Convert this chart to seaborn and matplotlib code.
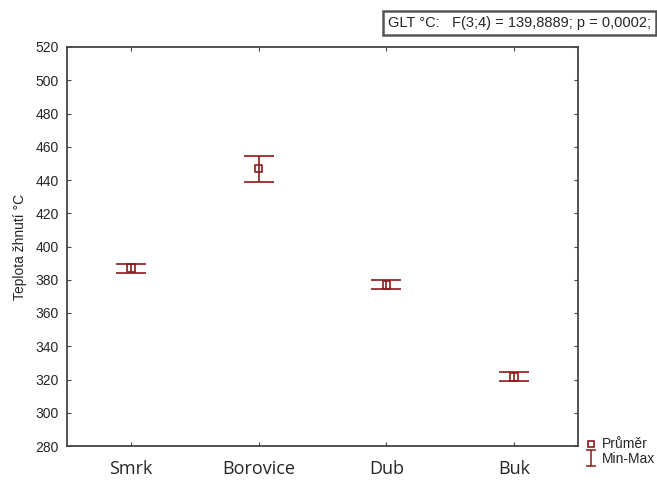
import numpy as np
import pandas as pd
import matplotlib
matplotlib.use("Agg")
import matplotlib.pyplot as plt
import seaborn as sns
from matplotlib.lines import Line2D
from matplotlib.path import Path

# values
druhy = ["Smrk", "Borovice", "Dub", "Buk"]
prumer = [387.0, 446.8, 376.8, 321.5]
minimum = [384.0, 439.0, 374.3, 319.0]
maximum = [389.5, 454.6, 379.6, 324.5]

df = pd.DataFrame({"Druh": druhy, "Prumer": prumer, "Min": minimum, "Max": maximum})

sns.set_style("white")
plt.rcParams["font.family"] = ["Liberation Sans", "DejaVu Sans"]

barva = "#8b1a1a"

fig = plt.figure(figsize=(6.57, 4.93), dpi=100)
ax = fig.add_axes([67 / 657, 1 - 446 / 493, (578 - 67) / 657, (446 - 47) / 493])

pos = np.arange(len(df))
err = [df["Prumer"] - df["Min"], df["Max"] - df["Prumer"]]
ax.errorbar(pos, df["Prumer"], yerr=err, fmt="none", ecolor=barva,
            elinewidth=1.2, capsize=11, capthick=1.2, zorder=2)
sns.scatterplot(x=pos, y=df["Prumer"], marker="s", s=30, facecolor="none",
                edgecolor=barva, linewidth=1.2, ax=ax, zorder=3)

ax.set_xlim(-0.5, 3.5)
ax.set_ylim(280, 520)
ax.set_yticks(range(280, 521, 20))
ax.set_xticks(pos)
ax.set_xticklabels(druhy, fontsize=13, family=["Open Sans", "DejaVu Sans"])
ax.tick_params(axis="y", labelsize=10, direction="in", length=3, right=True, left=True,
               pad=6, color="#444444")
ax.tick_params(axis="x", direction="in", length=3, top=True, bottom=True, pad=10,
               color="#444444")
ax.set_ylabel("Teplota žhnutí °C", fontsize=10, labelpad=6)
ax.set_xlabel("")
for s in ax.spines.values():
    s.set_color("#444444")
    s.set_linewidth(1.3)

# legend outside bottom right
ibeam = Path([(-0.6, 1), (0.6, 1), (0, 1), (0, -1), (-0.6, -1), (0.6, -1)],
             [Path.MOVETO, Path.LINETO, Path.MOVETO, Path.LINETO, Path.MOVETO, Path.LINETO])
h1 = Line2D([], [], marker="s", linestyle="none", markerfacecolor="none",
            markeredgecolor=barva, markersize=5, markeredgewidth=1.2)
h2 = Line2D([], [], marker=ibeam, linestyle="none", markerfacecolor="none",
            markeredgecolor=barva, markersize=11, markeredgewidth=1.1)
fig.legend([h1, h2], ["Průměr", "Min-Max"], loc="upper left",
           bbox_to_anchor=(573 / 657, 1 - 425 / 493), frameon=False,
           fontsize=10, handlelength=0.8, handletextpad=0.4, labelspacing=0.05)

# statistics box
fig.text(388 / 657, 1 - 23 / 493, "GLT °C:   F(3;4) = 139,8889; p = 0,0002;",
         fontsize=10.5, va="center", ha="left",
         bbox=dict(boxstyle="square,pad=0.35", facecolor="white",
                   edgecolor="#555555", linewidth=1.8))

fig.savefig("out.png", dpi=100)
